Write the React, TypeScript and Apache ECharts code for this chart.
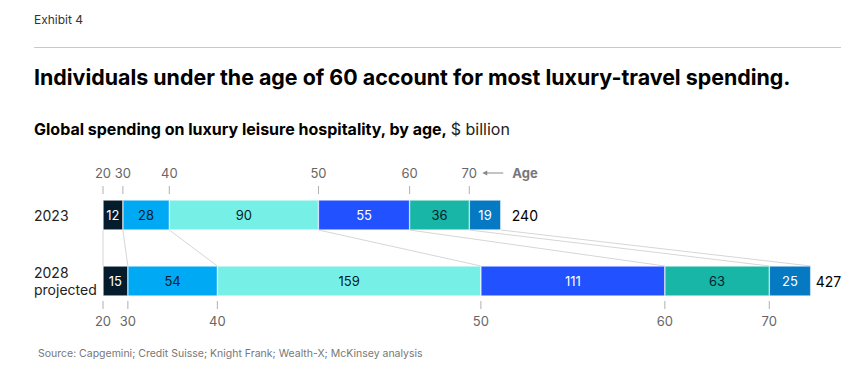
import React, { useEffect, useRef } from "react";
import * as echarts from "echarts";

const years = ["2023", "2028\nprojected"];
const ageGroups = ["20–30", "30–40", "40–50", "50–60", "60–70", "70+"];
const ageTicks = ["20", "30", "40", "50", "60", "70"];
const values2023 = [12, 28, 90, 55, 36, 19];
const values2028 = [15, 54, 159, 111, 63, 25];
const colors = ["#051c2c", "#00a9f4", "#76f0e6", "#2251ff", "#17b6a6", "#0679c3"];
const labelColors = ["#ffffff", "#051c2c", "#051c2c", "#ffffff", "#051c2c", "#ffffff"];

const FONT = "Inter, 'Noto Sans', sans-serif";

export default function App() {
  const ref = useRef<HTMLDivElement>(null);
  useEffect(() => {
    if (!ref.current) return;
    const chart = echarts.init(ref.current, null, { renderer: "svg" });

    const total23 = values2023.reduce((a, b) => a + b, 0);
    const total28 = values2028.reduce((a, b) => a + b, 0);
    const cum23: number[] = [0];
    const cum28: number[] = [0];
    values2023.forEach((v, i) => cum23.push(cum23[i] + v));
    values2028.forEach((v, i) => cum28.push(cum28[i] + v));
    const boundaryData = cum23.map((c, i) => [c, cum28[i], i]);

    const half = 15;

    const barSeries = ageGroups.map((g, i) => ({
      type: "bar",
      name: g,
      stack: "total",
      barWidth: 30,
      data: [values2023[i], values2028[i]],
      itemStyle: { color: colors[i], borderColor: "rgba(255,255,255,0.7)", borderWidth: 0.6 },
      label: {
        show: true,
        position: "inside",
        color: labelColors[i],
        fontFamily: FONT,
        fontSize: 13,
      },
      z: 3,
    }));

    const option: any = {
      animation: false,
      grid: { left: 103, width: 707.7, top: 182, height: 132, containLabel: false },
      xAxis: { type: "value", min: 0, max: total28, show: false },
      yAxis: {
        type: "category",
        data: years,
        inverse: true,
        axisLine: { show: false },
        axisTick: { show: false },
        axisLabel: {
          align: "left",
          margin: 69,
          color: "#222",
          fontFamily: FONT,
          fontSize: 14,
          lineHeight: 17,
        },
      },
      series: [
        ...barSeries,
        {
          type: "custom",
          coordinateSystem: "cartesian2d",
          data: boundaryData,
          encode: { x: 0 },
          z: 1,
          renderItem: (params: any, api: any) => {
            const i = api.value(2);
            const p23 = api.coord([api.value(0), 0]);
            const p28 = api.coord([api.value(1), 1]);
            const children: any[] = [];
            children.push({
              type: "line",
              shape: { x1: p23[0], y1: p23[1] + half, x2: p28[0], y2: p28[1] - half },
              style: { stroke: "#d6d6d6", lineWidth: 1 },
            });
            if (i < ageTicks.length) {
              children.push({
                type: "line",
                shape: { x1: p23[0], y1: p23[1] - half - 6, x2: p23[0], y2: p23[1] - half - 14 },
                style: { stroke: "#b0b0b0", lineWidth: 1 },
              });
              children.push({
                type: "text",
                style: {
                  x: p23[0], y: p23[1] - half - 27, text: ageTicks[i],
                  fill: "#666", fontFamily: FONT, fontSize: 13,
                  align: "center", verticalAlign: "middle",
                },
              });
              children.push({
                type: "line",
                shape: { x1: p28[0], y1: p28[1] + half + 5, x2: p28[0], y2: p28[1] + half + 13 },
                style: { stroke: "#b0b0b0", lineWidth: 1 },
              });
              children.push({
                type: "text",
                style: {
                  x: p28[0], y: p28[1] + half + 25, text: ageTicks[i],
                  fill: "#666", fontFamily: FONT, fontSize: 13,
                  align: "center", verticalAlign: "middle",
                },
              });
              if (i === ageTicks.length - 1) {
                const ay = p23[1] - half - 27;
                children.push({
                  type: "line",
                  shape: { x1: p23[0] + 16, y1: ay, x2: p23[0] + 34, y2: ay },
                  style: { stroke: "#888", lineWidth: 1 },
                });
                children.push({
                  type: "polygon",
                  shape: { points: [[p23[0] + 13, ay], [p23[0] + 18, ay - 2.5], [p23[0] + 18, ay + 2.5]] },
                  style: { fill: "#888" },
                });
                children.push({
                  type: "text",
                  style: {
                    x: p23[0] + 43, y: ay, text: "Age",
                    fill: "#777", fontFamily: FONT, fontSize: 13, fontWeight: "bold",
                    align: "left", verticalAlign: "middle",
                  },
                });
              }
            } else {
              children.push({
                type: "text",
                style: {
                  x: p23[0] + 11, y: p23[1], text: String(total23),
                  fill: "#000", fontFamily: FONT, fontSize: 14,
                  align: "left", verticalAlign: "middle",
                },
              });
              children.push({
                type: "text",
                style: {
                  x: p28[0] + 5, y: p28[1], text: String(total28),
                  fill: "#000", fontFamily: FONT, fontSize: 14,
                  align: "left", verticalAlign: "middle",
                },
              });
            }
            return { type: "group", children };
          },
        },
      ],
      graphic: [
        {
          type: "text", left: 34, top: 13,
          style: { text: "Exhibit 4", fill: "#333", fontFamily: FONT, fontSize: 12 },
        },
        {
          type: "line",
          shape: { x1: 34, y1: 47.5, x2: 841, y2: 47.5 },
          style: { stroke: "#c8c8c8", lineWidth: 1 },
        },
        {
          type: "text", left: 34, top: 66,
          style: {
            text: "Individuals under the age of 60 account for most luxury-travel spending.",
            fill: "#000", fontFamily: FONT, fontSize: 21.4, fontWeight: "bold",
          },
        },
        {
          type: "text", left: 34, top: 121,
          style: {
            text: "{b|Global spending on luxury leisure hospitality, by age,} {r|$ billion}",
            rich: {
              b: { fill: "#000", fontFamily: FONT, fontSize: 16, fontWeight: "bold" },
              r: { fill: "#222", fontFamily: FONT, fontSize: 16 },
            },
          },
        },
        {
          type: "text", left: 38, top: 348,
          style: {
            text: "Source: Capgemini; Credit Suisse; Knight Frank; Wealth-X; McKinsey analysis",
            fill: "#777", fontFamily: FONT, fontSize: 10.5,
          },
        },
      ],
    };
    chart.setOption(option);
    return () => chart.dispose();
  }, []);
  return (
    <div
      ref={ref}
      style={{ position: "absolute", left: 0, top: 0, width: 864, height: 381, background: "#fff" }}
    />
  );
}
